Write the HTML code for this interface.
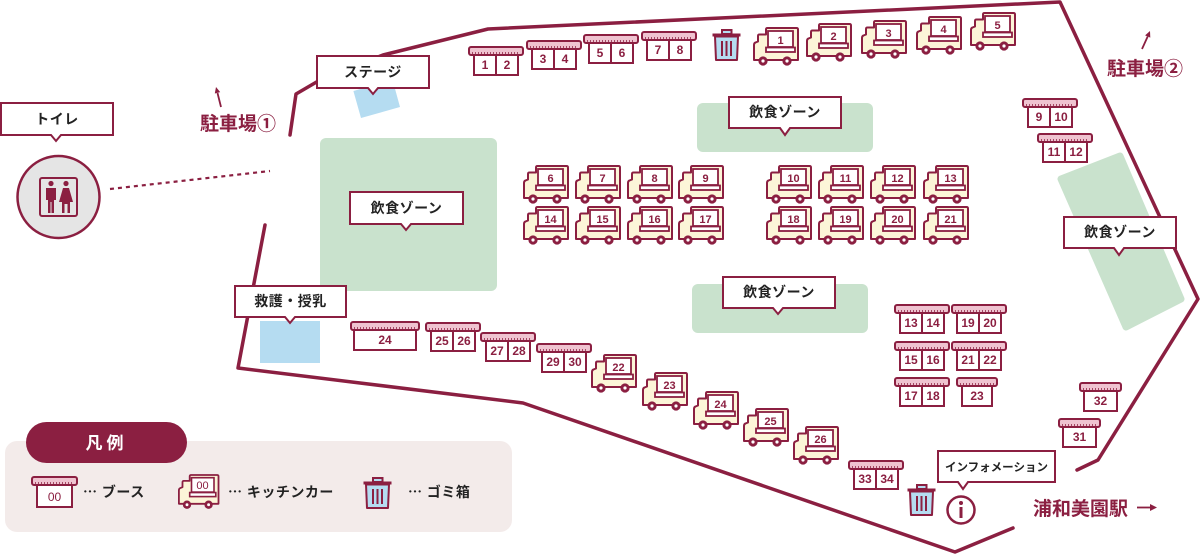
<!DOCTYPE html>
<html><head><meta charset="utf-8">
<style>
html,body{margin:0;padding:0;background:#fff;}
svg{display:block;}
.aw{fill:#efc3d0;stroke:#8b1f41;stroke-width:2;}
.sc{stroke:#8b1f41;stroke-width:1.6;stroke-dasharray:1 2;}
.bx{fill:#fff;stroke:#8b1f41;stroke-width:2;}
.dv{stroke:#8b1f41;stroke-width:2;}
.n{font-family:"Liberation Sans Narrow","Liberation Sans",sans-serif;font-weight:bold;font-size:12px;fill:#8b1f41;text-anchor:middle;}
.tn{font-family:"Liberation Sans Narrow","Liberation Sans",sans-serif;font-weight:bold;font-size:11px;fill:#8b1f41;text-anchor:middle;}
.lb{fill:#fff;stroke:#8b1f41;stroke-width:2;stroke-linejoin:miter;}
.lt{font-family:"Liberation Sans","Noto Sans CJK JP",sans-serif;font-weight:bold;font-size:14px;fill:#222;text-anchor:middle;letter-spacing:0.5px;}
.pk{font-family:"Liberation Sans","Noto Sans CJK JP",sans-serif;font-weight:bold;font-size:19px;fill:#8b1f41;}
.lg{font-family:"Liberation Sans","Noto Sans CJK JP",sans-serif;font-weight:bold;font-size:14px;fill:#222;letter-spacing:0.5px;}
.el{font-family:"Noto Sans CJK JP",sans-serif;}
</style></head>
<body>
<svg width="1200" height="555" viewBox="0 0 1200 555" xmlns="http://www.w3.org/2000/svg" xmlns:xlink="http://www.w3.org/1999/xlink">
<defs>
 <g id="trk">
  <path d="M13,1.5 Q13,0 14.5,0 H43.5 Q45,0 45,1.5 V32 H1 V17 Q1,15 2.5,14.5 L5,13.5 V8 Q5,6.5 6.5,6.5 H13 Z" fill="#fcf5d8" stroke="#8b1f41" stroke-width="2" stroke-linejoin="round"/>
  <rect x="15" y="3" width="25" height="16" fill="#fff" stroke="#8b1f41" stroke-width="1.8"/>
  <rect x="13" y="19.5" width="29" height="4.5" fill="#fff" stroke="#8b1f41" stroke-width="1.8"/>
  <circle cx="10" cy="33" r="4.6" fill="#8b1f41"/><circle cx="10" cy="33" r="1.6" fill="#fff"/>
  <circle cx="34" cy="33" r="4.6" fill="#8b1f41"/><circle cx="34" cy="33" r="1.6" fill="#fff"/>
 </g>
 <g id="b2">
  <rect class="bx" x="5" y="7" width="44" height="21"/>
  <line class="dv" x1="27" y1="7" x2="27" y2="28"/>
  <rect class="aw" x="0" y="0" width="54" height="8" rx="2"/>
  <line class="sc" x1="3" y1="6" x2="51" y2="6"/>
 </g>
 <g id="b1">
  <rect class="bx" x="4" y="7" width="33" height="21"/>
  <rect class="aw" x="0" y="0" width="41" height="8" rx="2"/>
  <line class="sc" x1="3" y1="6" x2="38" y2="6"/>
 </g>
 <g id="trash">
  <rect x="10" y="1" width="9.5" height="4" fill="#b5dcf1" stroke="#8b1f41" stroke-width="2"/>
  <rect x="0.5" y="4.5" width="28" height="3" fill="#8b1f41"/>
  <path d="M3,7.5 H26 L25,31 H4 Z" fill="#b5dcf1" stroke="#8b1f41" stroke-width="2" stroke-linejoin="round"/>
  <line x1="10" y1="12" x2="10" y2="27" stroke="#8b1f41" stroke-width="2"/>
  <line x1="14.5" y1="12" x2="14.5" y2="27" stroke="#8b1f41" stroke-width="2"/>
  <line x1="19" y1="12" x2="19" y2="27" stroke="#8b1f41" stroke-width="2"/>
 </g>
</defs>

<!-- zones -->
<rect x="320" y="138" width="177" height="153" rx="6" fill="#c9e2cd"/>
<rect x="697" y="103" width="176" height="49" rx="6" fill="#c9e2cd"/>
<rect x="692" y="284" width="176" height="49" rx="6" fill="#c9e2cd"/>
<polygon points="1061,179 1120,156 1181,299 1126,327" fill="#c9e2cd" stroke="#c9e2cd" stroke-width="7" stroke-linejoin="round"/>

<!-- stage / first aid blue -->
<polygon points="361,118 400,107 392.6,80 353.4,91" fill="#b5dcf1"/>
<rect x="260" y="321" width="60" height="42" fill="#b5dcf1"/>

<!-- boundary -->
<polyline points="290,135 296,94 320,80 383,55 488,29 1060,2 1198,299 1098,460 1077,470" fill="none" stroke="#8b1f41" stroke-width="3.5" stroke-linejoin="round" stroke-linecap="round"/>
<polyline points="1013,528 955,552 523,403 238,368 265,225" fill="none" stroke="#8b1f41" stroke-width="3.5" stroke-linejoin="round" stroke-linecap="round"/>

<!-- dotted toilet line -->
<line x1="110" y1="189" x2="270" y2="171" stroke="#8b1f41" stroke-width="2.2" stroke-dasharray="4 4"/>

<!-- toilet -->
<circle cx="58.5" cy="197" r="41" fill="#e5e5e5" stroke="#8b1f41" stroke-width="2.5"/>
<rect x="40" y="178" width="37" height="38" rx="2" fill="none" stroke="#8b1f41" stroke-width="2"/>
<circle cx="51" cy="183.5" r="2.6" fill="#8b1f41"/>
<path d="M46,188 H56 V200 H54 V213 H51.5 V202 H50.5 V213 H48 V200 H46 Z" fill="#8b1f41"/>
<circle cx="66" cy="183.5" r="2.6" fill="#8b1f41"/>
<path d="M63,188 H69 L73,202 H70 V213 H67.5 V204 H64.5 V213 H62 V202 H59 Z" fill="#8b1f41"/>

<!-- parking texts & arrows -->
<text class="pk" x="200" y="130">駐車場①</text>
<line x1="221" y1="107" x2="217.5" y2="93" stroke="#8b1f41" stroke-width="1.8"/>
<polygon points="216,87 220.2,92.1 214.8,93.5" fill="#8b1f41"/>
<text class="pk" x="1107" y="75">駐車場②</text>
<line x1="1142" y1="49" x2="1147.7" y2="36.5" stroke="#8b1f41" stroke-width="1.8"/>
<polygon points="1150,31 1150.3,37.6 1145.1,35.4" fill="#8b1f41"/>
<text class="pk" x="1033" y="515">浦和美園駅</text>
<line x1="1137" y1="507.5" x2="1151" y2="507.5" stroke="#8b1f41" stroke-width="1.8"/>
<polygon points="1157,507.5 1150,504 1150,511" fill="#8b1f41"/>

<!-- booths -->
<use href="#b2" xlink:href="#b2" x="469" y="47"/><text class="n" x="485" y="69">1</text><text class="n" x="507" y="69">2</text>
<use href="#b2" xlink:href="#b2" x="527" y="41"/><text class="n" x="543" y="63">3</text><text class="n" x="565" y="63">4</text>
<use href="#b2" xlink:href="#b2" x="584" y="35"/><text class="n" x="600" y="57">5</text><text class="n" x="622" y="57">6</text>
<use href="#b2" xlink:href="#b2" x="642" y="32"/><text class="n" x="658" y="54">7</text><text class="n" x="680" y="54">8</text>
<use href="#b2" xlink:href="#b2" x="1023" y="99"/><text class="n" x="1039" y="121">9</text><text class="n" x="1061" y="121">10</text>
<use href="#b2" xlink:href="#b2" x="1038" y="134"/><text class="n" x="1054" y="156">11</text><text class="n" x="1076" y="156">12</text>
<use href="#b2" xlink:href="#b2" x="895" y="305"/><text class="n" x="911" y="327">13</text><text class="n" x="933" y="327">14</text>
<use href="#b2" xlink:href="#b2" x="952" y="305"/><text class="n" x="968" y="327">19</text><text class="n" x="990" y="327">20</text>
<use href="#b2" xlink:href="#b2" x="895" y="342"/><text class="n" x="911" y="364">15</text><text class="n" x="933" y="364">16</text>
<use href="#b2" xlink:href="#b2" x="952" y="342"/><text class="n" x="968" y="364">21</text><text class="n" x="990" y="364">22</text>
<use href="#b2" xlink:href="#b2" x="895" y="378"/><text class="n" x="911" y="400">17</text><text class="n" x="933" y="400">18</text>
<use href="#b2" xlink:href="#b2" x="426" y="323"/><text class="n" x="442" y="345">25</text><text class="n" x="464" y="345">26</text>
<use href="#b2" xlink:href="#b2" x="481" y="333"/><text class="n" x="497" y="355">27</text><text class="n" x="519" y="355">28</text>
<use href="#b2" xlink:href="#b2" x="537" y="344"/><text class="n" x="553" y="366">29</text><text class="n" x="575" y="366">30</text>
<use href="#b2" xlink:href="#b2" x="849" y="461"/><text class="n" x="865" y="483">33</text><text class="n" x="887" y="483">34</text>

<!-- single booths -->
<g transform="translate(351,322)">
 <rect class="bx" x="3" y="7" width="62" height="21"/>
 <rect class="aw" x="0" y="0" width="68" height="8" rx="2"/>
 <line class="sc" x1="3" y1="6" x2="65" y2="6"/>
</g>
<text class="n" x="385" y="344">24</text>
<g transform="translate(957,378)">
 <rect class="bx" x="5" y="7" width="30" height="21"/>
 <rect class="aw" x="0" y="0" width="40" height="8" rx="2"/>
 <line class="sc" x1="3" y1="6" x2="37" y2="6"/>
</g>
<text class="n" x="977" y="400">23</text>
<use href="#b1" xlink:href="#b1" x="1080" y="383"/><text class="n" x="1100.5" y="405">32</text>
<use href="#b1" xlink:href="#b1" x="1059" y="419"/><text class="n" x="1079.5" y="441">31</text>

<!-- trash -->
<use href="#trash" xlink:href="#trash" x="712" y="29"/>
<use href="#trash" xlink:href="#trash" x="907" y="484"/>

<!-- trucks -->
<use href="#trk" xlink:href="#trk" x="753" y="28"/><text class="tn" x="780.5" y="44">1</text>
<use href="#trk" xlink:href="#trk" x="806" y="24"/><text class="tn" x="833.5" y="40">2</text>
<use href="#trk" xlink:href="#trk" x="861" y="21"/><text class="tn" x="888.5" y="37">3</text>
<use href="#trk" xlink:href="#trk" x="916" y="17"/><text class="tn" x="943.5" y="33">4</text>
<use href="#trk" xlink:href="#trk" x="970" y="13"/><text class="tn" x="997.5" y="29">5</text>

<use href="#trk" xlink:href="#trk" x="523" y="166"/><text class="tn" x="550.5" y="182">6</text>
<use href="#trk" xlink:href="#trk" x="575" y="166"/><text class="tn" x="602.5" y="182">7</text>
<use href="#trk" xlink:href="#trk" x="627" y="166"/><text class="tn" x="654.5" y="182">8</text>
<use href="#trk" xlink:href="#trk" x="678" y="166"/><text class="tn" x="705.5" y="182">9</text>
<use href="#trk" xlink:href="#trk" x="766" y="166"/><text class="tn" x="793.5" y="182">10</text>
<use href="#trk" xlink:href="#trk" x="818" y="166"/><text class="tn" x="845.5" y="182">11</text>
<use href="#trk" xlink:href="#trk" x="870" y="166"/><text class="tn" x="897.5" y="182">12</text>
<use href="#trk" xlink:href="#trk" x="923" y="166"/><text class="tn" x="950.5" y="182">13</text>

<use href="#trk" xlink:href="#trk" x="523" y="207"/><text class="tn" x="550.5" y="223">14</text>
<use href="#trk" xlink:href="#trk" x="575" y="207"/><text class="tn" x="602.5" y="223">15</text>
<use href="#trk" xlink:href="#trk" x="627" y="207"/><text class="tn" x="654.5" y="223">16</text>
<use href="#trk" xlink:href="#trk" x="678" y="207"/><text class="tn" x="705.5" y="223">17</text>
<use href="#trk" xlink:href="#trk" x="766" y="207"/><text class="tn" x="793.5" y="223">18</text>
<use href="#trk" xlink:href="#trk" x="818" y="207"/><text class="tn" x="845.5" y="223">19</text>
<use href="#trk" xlink:href="#trk" x="870" y="207"/><text class="tn" x="897.5" y="223">20</text>
<use href="#trk" xlink:href="#trk" x="923" y="207"/><text class="tn" x="950.5" y="223">21</text>

<use href="#trk" xlink:href="#trk" x="591" y="355"/><text class="tn" x="618.5" y="371">22</text>
<use href="#trk" xlink:href="#trk" x="642" y="373"/><text class="tn" x="669.5" y="389">23</text>
<use href="#trk" xlink:href="#trk" x="693" y="392"/><text class="tn" x="720.5" y="408">24</text>
<use href="#trk" xlink:href="#trk" x="743" y="409"/><text class="tn" x="770.5" y="425">25</text>
<use href="#trk" xlink:href="#trk" x="793" y="427"/><text class="tn" x="820.5" y="443">26</text>

<!-- info icon -->
<circle cx="961" cy="510" r="13.5" fill="#fff" stroke="#8b1f41" stroke-width="2.5"/>
<circle cx="961" cy="503" r="2" fill="#8b1f41"/>
<rect x="959.5" y="507" width="3" height="11" fill="#8b1f41"/>

<!-- labels -->
<path class="lb" d="M1,103 H113 V135 H61 L56,141 L51,135 H1 Z"/>
<text class="lt" x="57" y="124">トイレ</text>
<path class="lb" d="M317,56 H429 V88 H378 L373,94 L368,88 H317 Z"/>
<text class="lt" x="373" y="77">ステージ</text>
<path class="lb" d="M350,192 H463 V224 H411 L406,230 L401,224 H350 Z"/>
<text class="lt" x="406.5" y="213">飲食ゾーン</text>
<path class="lb" d="M235,286 H346 V317 H295 L290,323 L285,317 H235 Z"/>
<text class="lt" x="290.5" y="306">救護・授乳</text>
<path class="lb" d="M729,97 H841 V128 H790 L785,135 L780,128 H729 Z"/>
<text class="lt" x="785" y="117">飲食ゾーン</text>
<path class="lb" d="M723,277 H835 V308 H783 L778,314 L773,308 H723 Z"/>
<text class="lt" x="779" y="297">飲食ゾーン</text>
<path class="lb" d="M1064,217 H1176 V248 H1124 L1119,255 L1114,248 H1064 Z"/>
<text class="lt" x="1120" y="237">飲食ゾーン</text>
<path class="lb" d="M938,451 H1055 V482 H968 L963,489 L958,482 H938 Z"/>
<text class="lt" x="996.5" y="471" style="font-size:11.5px;letter-spacing:0">インフォメーション</text>

<!-- legend -->
<rect x="5" y="441" width="507" height="91" rx="12" fill="#f3ebea"/>
<rect x="26" y="422" width="161" height="41" rx="20.5" fill="#8b1f41"/>
<text x="106.5" y="449" text-anchor="middle" style="font-family:'Liberation Sans','Noto Sans CJK JP',sans-serif;font-weight:bold;font-size:17px;fill:#fff;letter-spacing:4px">凡例</text>
<g transform="translate(32,477)">
 <rect class="bx" x="5" y="7" width="35" height="23"/>
 <rect class="aw" x="0" y="0" width="45" height="8" rx="2"/>
 <line class="sc" x1="3" y1="6" x2="42" y2="6"/>
</g>
<text class="n" x="54.5" y="501" style="font-weight:normal;font-size:12px">00</text>
<text class="lg" x="83" y="497"><tspan class="el">…</tspan> ブース</text>
<g transform="translate(178,475) scale(0.9)"><use href="#trk" xlink:href="#trk"/></g>
<text class="tn" x="202.5" y="489" style="font-weight:normal">00</text>
<text class="lg" x="228" y="497"><tspan class="el">…</tspan> キッチンカー</text>
<use href="#trash" xlink:href="#trash" x="363" y="477"/>
<text class="lg" x="408" y="497"><tspan class="el">…</tspan> ゴミ箱</text>
</svg>
</body></html>
